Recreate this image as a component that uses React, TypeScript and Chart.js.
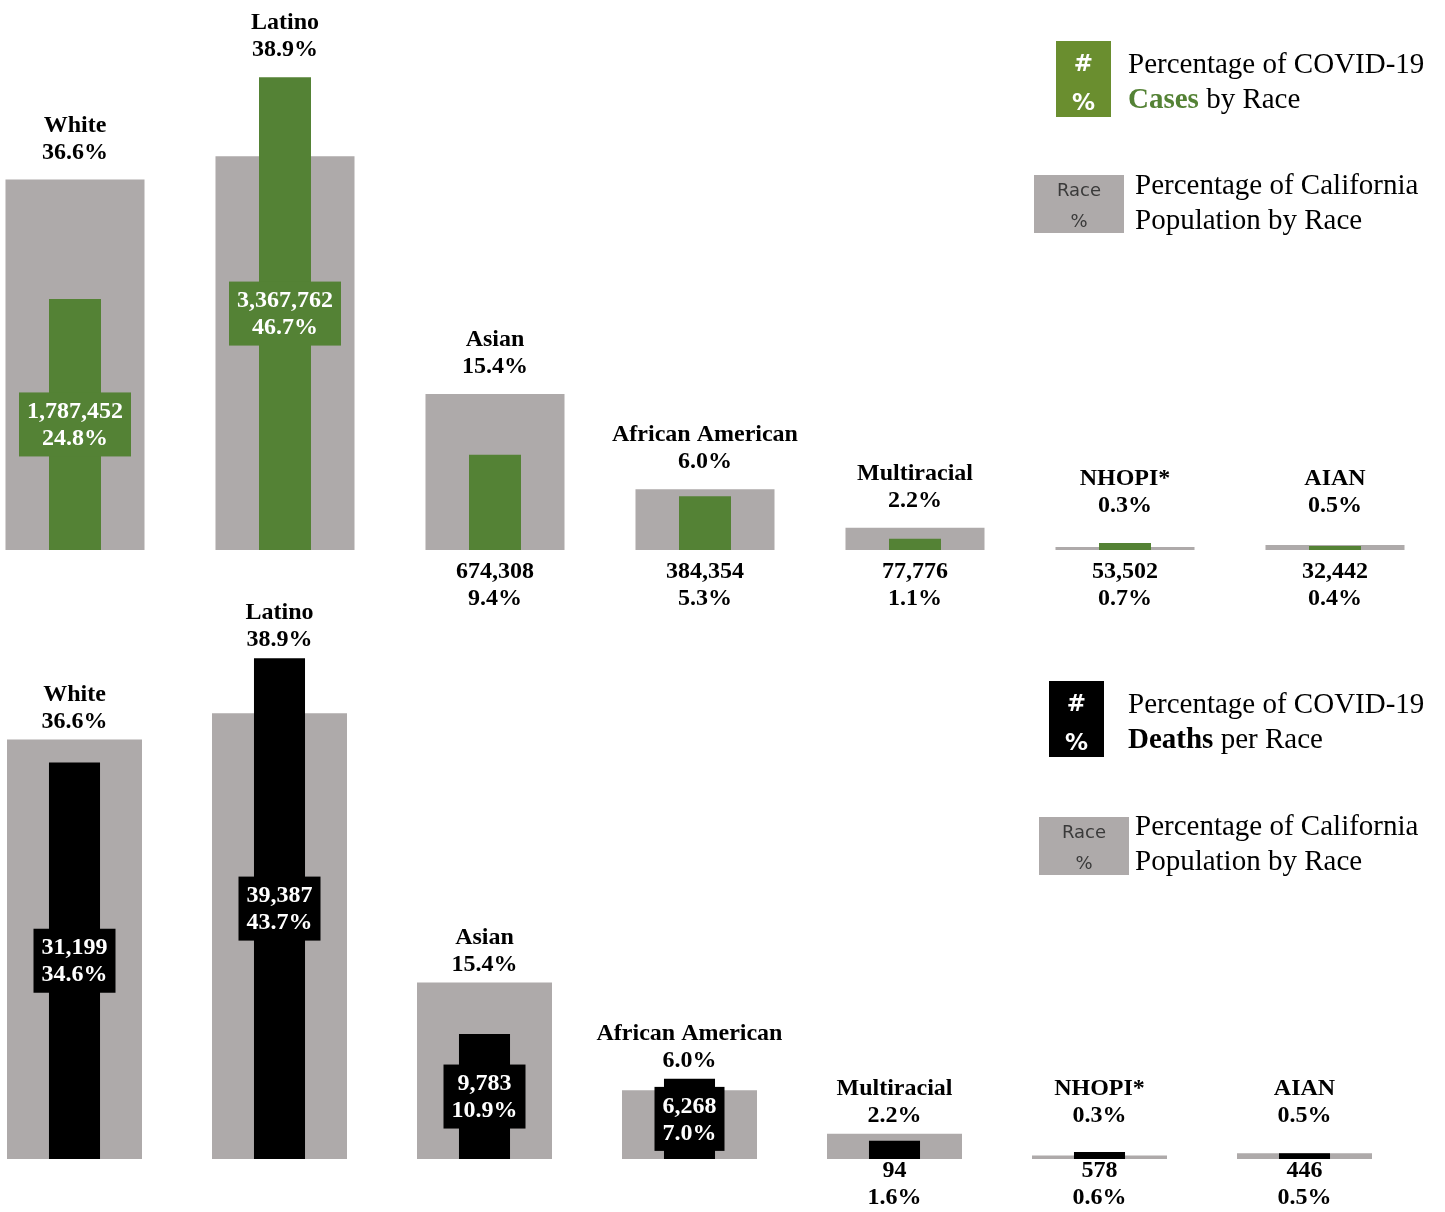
import React, { useEffect, useRef } from 'react';
import { Chart, registerables } from 'chart.js';

Chart.register(...registerables);

const races = ['White', 'Latino', 'Asian', 'African American', 'Multiracial', 'NHOPI*', 'AIAN'];
const populationPct = [36.6, 38.9, 15.4, 6.0, 2.2, 0.3, 0.5];
const caseCounts = [1787452, 3367762, 674308, 384354, 77776, 53502, 32442];
const casePct = [24.8, 46.7, 9.4, 5.3, 1.1, 0.7, 0.4];
const deathCounts = [31199, 39387, 9783, 6268, 94, 578, 446];
const deathPct = [34.6, 43.7, 10.9, 7.0, 1.6, 0.6, 0.5];
const caseLabelInside = [true, true, false, false, false, false, false];
const deathLabelInside = [true, true, true, true, false, false, false];

const SERIF = "'Liberation Serif', 'Times New Roman', serif";
const SANS = "'DejaVu Sans', 'Noto Sans', sans-serif";
const GREY = '#AEAAAA';
const GREEN = '#548235';

function fmtCount(n: number): string {
  const s = String(Math.round(n));
  let out = '';
  for (let i = 0; i < s.length; i++) {
    const fromEnd = s.length - i;
    out += s[i];
    if (fromEnd > 1 && (fromEnd - 1) % 3 === 0) out += ',';
  }
  return out;
}
const fmtPct = (v: number) => v.toFixed(1) + '%';

interface LabelCfg {
  counts: number[];
  pcts: number[];
  inside: boolean[];
  color: string;
  raceGap: number;
  raceMin: number;
  belowOffset: number;
}

function makeLabelPlugin(cfg: LabelCfg) {
  return {
    id: 'raceLabels',
    afterDatasetsDraw(chart: any) {
      const ctx: CanvasRenderingContext2D = chart.ctx;
      const fg = chart.getDatasetMeta(0).data;
      const bg = chart.getDatasetMeta(1).data;
      ctx.save();
      ctx.font = `bold 24px ${SERIF}`;
      ctx.textAlign = 'center';
      ctx.textBaseline = 'middle';
      const lh = 27;
      for (let i = 0; i < races.length; i++) {
        const g: any = bg[i];
        const f: any = fg[i];
        const base = g.base;
        const top = Math.min(g.y, f.y);
        const y2 = Math.min(top - cfg.raceGap, base - cfg.raceMin);
        ctx.fillStyle = '#000';
        ctx.fillText(races[i], g.x, y2 - lh + 1);
        ctx.fillText(fmtPct(populationPct[i]), g.x, y2 + 1);
        const l1 = fmtCount(cfg.counts[i]);
        const l2 = fmtPct(cfg.pcts[i]);
        if (cfg.inside[i]) {
          const cy = (f.y + f.base) / 2;
          const w = Math.max(ctx.measureText(l1).width, ctx.measureText(l2).width) + 16;
          ctx.fillStyle = cfg.color;
          ctx.fillRect(f.x - w / 2, cy - 32, w, 64);
          ctx.fillStyle = '#fff';
          ctx.fillText(l1, f.x, cy - lh / 2 + 1);
          ctx.fillText(l2, f.x, cy + lh / 2 + 1);
        } else {
          ctx.fillStyle = '#000';
          ctx.fillText(l1, f.x, base + cfg.belowOffset + 1);
          ctx.fillText(l2, f.x, base + cfg.belowOffset + lh + 1);
        }
      }
      ctx.restore();
    },
  };
}

function buildChart(
  canvas: HTMLCanvasElement,
  values: number[],
  color: string,
  fgPct: number,
  bgPct: number,
  padTop: number,
  padBottom: number,
  cfg: LabelCfg
) {
  return new Chart(canvas, {
    type: 'bar',
    data: {
      labels: races,
      datasets: [
        {
          data: values,
          backgroundColor: color,
          borderWidth: 0,
          grouped: false,
          barPercentage: fgPct,
          categoryPercentage: 1,
          order: 0,
        } as any,
        {
          data: populationPct,
          backgroundColor: GREY,
          borderWidth: 0,
          grouped: false,
          barPercentage: bgPct,
          categoryPercentage: 1,
          order: 1,
        } as any,
      ],
    },
    options: {
      responsive: false,
      animation: false,
      devicePixelRatio: 1,
      layout: { padding: { top: padTop, bottom: padBottom, left: 0, right: 0 } },
      plugins: { legend: { display: false }, tooltip: { enabled: false } },
      scales: {
        x: { display: false },
        y: { display: false, min: 0, max: 50 },
      },
    },
    plugins: [makeLabelPlugin(cfg)],
  });
}

const legendText: React.CSSProperties = {
  position: 'absolute',
  fontFamily: SERIF,
  fontSize: 29,
  lineHeight: '35px',
  color: '#000',
  whiteSpace: 'nowrap',
};

function SymbolBox(props: { left: number; top: number; bg: string; dark?: boolean }) {
  const { left, top, bg } = props;
  const s: React.CSSProperties = {
    position: 'absolute',
    left: 0,
    width: 55,
    textAlign: 'center',
    color: '#fff',
    fontFamily: SANS,
    fontWeight: 'bold',
    fontSize: 23,
    lineHeight: '26px',
  };
  return (
    <div style={{ position: 'absolute', left, top, width: 55, height: 76, background: bg }}>
      <div style={{ ...s, top: 9 }}>#</div>
      <div style={{ ...s, top: 48 }}>%</div>
    </div>
  );
}

function RaceBox(props: { left: number; top: number }) {
  const s: React.CSSProperties = {
    position: 'absolute',
    left: 0,
    width: 90,
    textAlign: 'center',
    color: '#3a3a3a',
    fontFamily: SANS,
    fontSize: 18,
    lineHeight: '22px',
  };
  return (
    <div style={{ position: 'absolute', left: props.left, top: props.top, width: 90, height: 58, background: GREY }}>
      <div style={{ ...s, top: 4 }}>Race</div>
      <div style={{ ...s, top: 35 }}>%</div>
    </div>
  );
}

export default function App() {
  const topRef = useRef<HTMLCanvasElement>(null);
  const botRef = useRef<HTMLCanvasElement>(null);

  useEffect(() => {
    const c1 = buildChart(topRef.current!, casePct, GREEN, 0.2476, 0.662, 43.75, 70, {
      counts: caseCounts,
      pcts: casePct,
      inside: caseLabelInside,
      color: GREEN,
      raceGap: 28,
      raceMin: 45,
      belowOffset: 21,
    });
    const c2 = buildChart(botRef.current!, deathPct, '#000', 0.249, 0.6585, 6, 53, {
      counts: deathCounts,
      pcts: deathPct,
      inside: deathLabelInside,
      color: '#000',
      raceGap: 19,
      raceMin: 44,
      belowOffset: 11,
    });
    return () => {
      c1.destroy();
      c2.destroy();
    };
  }, []);

  return (
    <div
      style={{
        position: 'absolute',
        left: 0,
        top: 0,
        width: 1445,
        height: 1212,
        overflow: 'hidden',
        background: '#fff',
      }}
    >
      <canvas ref={topRef} width={1470} height={620} style={{ position: 'absolute', left: -30, top: 0, width: 1470, height: 620 }} />
      <canvas ref={botRef} width={1435} height={632} style={{ position: 'absolute', left: -28, top: 580, width: 1435, height: 632 }} />

      <SymbolBox left={1056} top={41} bg="#6A8E2F" />
      <div style={{ ...legendText, left: 1128, top: 46 }}>
        Percentage of COVID-19
        <br />
        <span style={{ color: GREEN, fontWeight: 'bold' }}>Cases</span> by Race
      </div>
      <RaceBox left={1034} top={175} />
      <div style={{ ...legendText, left: 1135, top: 167 }}>
        Percentage of California
        <br />
        Population by Race
      </div>

      <SymbolBox left={1049} top={681} bg="#000" />
      <div style={{ ...legendText, left: 1128, top: 686 }}>
        Percentage of COVID-19
        <br />
        <span style={{ fontWeight: 'bold' }}>Deaths</span> per Race
      </div>
      <RaceBox left={1039} top={817} />
      <div style={{ ...legendText, left: 1135, top: 808 }}>
        Percentage of California
        <br />
        Population by Race
      </div>
    </div>
  );
}
